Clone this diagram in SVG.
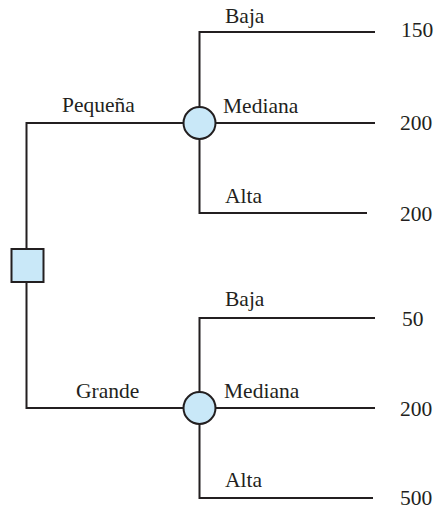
<svg xmlns="http://www.w3.org/2000/svg" width="438" height="511" viewBox="0 0 438 511">
<style>
.ln{fill:none;stroke:#231f20;stroke-width:2}
.nd{fill:#c9e8f8;stroke:#231f20;stroke-width:2}
text{font-family:"Liberation Serif","Times New Roman",serif;font-size:21.5px;fill:#231f20}
</style>
<rect width="438" height="511" fill="#ffffff"/>
<g id="connectors">
<path class="ln" d="M26.5,249 V123 H183"/>
<path class="ln" d="M26.5,282 V408 H183"/>
<path class="ln" d="M375,32 H199.5 V107"/>
<path class="ln" d="M199.5,139 V213 H367"/>
<path class="ln" d="M215,123 H375"/>
<path class="ln" d="M375,318 H199.5 V392"/>
<path class="ln" d="M199.5,424 V498 H373"/>
<path class="ln" d="M215,408 H375"/>
</g>
<g id="decision"><rect class="nd" x="11.5" y="249" width="32" height="33"/></g>
<g id="chance1"><circle class="nd" cx="199.5" cy="123" r="16"/></g>
<g id="chance2"><circle class="nd" cx="199.5" cy="408" r="16"/></g>
<g id="labels">
<text x="62" y="112">Pequeña</text>
<text x="76" y="398">Grande</text>
<text x="225" y="23">Baja</text>
<text x="223" y="113">Mediana</text>
<text x="225" y="203">Alta</text>
<text x="225" y="306">Baja</text>
<text x="224" y="398">Mediana</text>
<text x="225" y="487">Alta</text>
<text x="401" y="37">150</text>
<text x="400" y="130">200</text>
<text x="400" y="221">200</text>
<text x="402" y="326">50</text>
<text x="400" y="416">200</text>
<text x="400" y="505">500</text>
</g>
</svg>
